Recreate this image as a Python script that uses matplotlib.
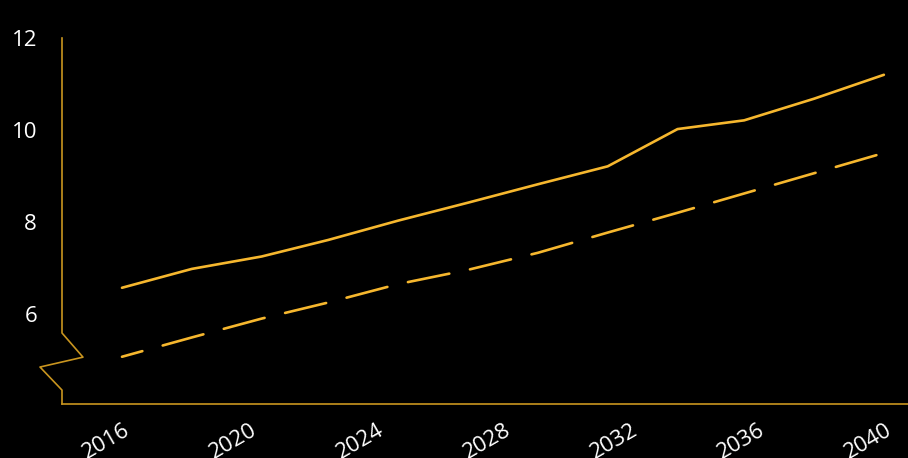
import matplotlib
matplotlib.use("Agg")
import matplotlib.pyplot as plt
import matplotlib.transforms as mtransforms

plt.rcParams.update({
    "font.family": ["Open Sans", "DejaVu Sans"],
    "font.size": 16,
})

BG = "#000000"
COLOR_LINE = "#F6B72E"
COLOR_AXIS = "#C9951F"

# values
years = [2016.0, 2018.2, 2020.4, 2022.5, 2024.7, 2026.9,
         2029.1, 2031.3, 2033.5, 2035.6, 2037.8, 2040.0]
solid_vals = [6.57, 6.98, 7.25, 7.61, 8.03, 8.42,
              8.82, 9.21, 10.02, 10.21, 10.68, 11.20]
dashed_vals = [5.07, 5.49, 5.90, 6.25, 6.65, 6.96,
               7.33, 7.77, 8.20, 8.62, 9.06, 9.50]

xticks = [2016, 2020, 2024, 2028, 2032, 2036, 2040]
yticks = [6, 8, 10, 12]

fig = plt.figure(figsize=(9.08, 4.58), dpi=100, facecolor=BG)
ax = fig.add_axes([62 / 908, 54 / 458, 846 / 908, 366 / 458], facecolor=BG)

ax.plot(years, solid_vals, color=COLOR_LINE, lw=1.9, solid_capstyle="round")
ax.plot(years, dashed_vals, color=COLOR_LINE, lw=1.9,
        linestyle=(8, (16, 8)), dash_capstyle="round")

ax.set_xlim(2014.11, 2040.76)
ax.set_ylim(4.043, 12)

for s in ax.spines.values():
    s.set_visible(False)

# bottom axis line
ax.plot([0, 1], [0, 0], transform=ax.transAxes, color=COLOR_AXIS,
        lw=1.2, clip_on=False)
# left axis with a zigzag break
brk_x = [0, 0, 0.0248, -0.026, 0, 0]
brk_y = [1, 0.194, 0.128, 0.101, 0.038, 0]
ax.plot(brk_x, brk_y, transform=ax.transAxes, color=COLOR_AXIS,
        lw=1.2, clip_on=False)

ax.set_yticks(yticks)
ax.set_yticklabels([str(v) for v in yticks])
ax.set_xticks(xticks)
ax.set_xticklabels([str(v) for v in xticks], rotation=30, ha="center")
ax.tick_params(axis="both", length=0, colors="white", labelsize=16)
ax.tick_params(axis="y", pad=18)
ax.tick_params(axis="x", pad=11)

shift = mtransforms.ScaledTranslation(-16 / 100, 0, fig.dpi_scale_trans)
for lab in ax.get_xticklabels():
    lab.set_transform(lab.get_transform() + shift)

fig.savefig("out.png", dpi=100, facecolor=BG)
